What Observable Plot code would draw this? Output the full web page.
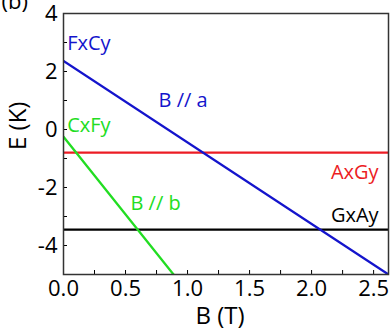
<!DOCTYPE html>
<html>
<head>
<meta charset="utf-8">
<script src="https://cdn.jsdelivr.net/npm/d3@7"></script>
<script src="https://cdn.jsdelivr.net/npm/@observablehq/plot@0.6"></script>
<style>
  html, body { margin: 0; padding: 0; background: #fff; }
  svg { display: block; font-family: "Open Sans", sans-serif; }
</style>
</head>
<body>
<div id="chart"></div>
<script>
// Field B (T) and energy E (K) for each line
const aFieldB = [0, 2.62];          // B // a  (FxCy)
const aEnergyE = [2.36, -5];
const bFieldB = [0, 0.887];         // B // b  (CxFy)
const bEnergyE = [-0.25, -5];
const axGyE = [-0.8];               // AxGy, field independent
const gxAyE = [-3.45];              // GxAy, field independent

// Annotation labels (anchored in data coordinates)
const labelText  = ["FxCy", "B // a", "CxFy", "B // b", "AxGy", "GxAy"];
const labelB     = [0.03, 0.766, 0.03, 0.54, 2.54, 2.54];
const labelE     = [2.97, 1.0, 0.14, -2.55, -1.48, -2.97];
const labelColor = ["#1414cc", "#1414cc", "#22dd22", "#22dd22", "#ec1c24", "#000000"];
const labelAnchor = ["start", "start", "start", "start", "end", "end"];

// Axis ticks
const xTickLabels = [0, 0.5, 1.0, 1.5, 2.0, 2.5];
const xMinorTicks = [0, 0.25, 0.5, 0.75, 1.0, 1.25, 1.5, 1.75, 2.0, 2.25, 2.5];
const yTickLabels = [-4, -2, 0, 2, 4];
const yMinorTicks = [-5, -4, -3, -2, -1, 0, 1, 2, 3, 4];
const xTitle = "B (T)";
const yTitle = "E (K)";
const panelTag = "(b)";

const aLine = aFieldB.map((b, i) => ({B: b, E: aEnergyE[i]}));
const bLine = bFieldB.map((b, i) => ({B: b, E: bEnergyE[i]}));
const labels = labelText.map((t, i) => ({t, B: labelB[i], E: labelE[i], c: labelColor[i], a: labelAnchor[i]}));

const plot = Plot.plot({
  width: 390,
  height: 331,
  marginTop: 13,
  marginRight: 2,
  marginBottom: 57,
  marginLeft: 63,
  style: {fontFamily: "'Open Sans', sans-serif", background: "#fff"},
  x: {domain: [0, 2.62]},
  y: {domain: [-5, 4]},
  marks: [
    Plot.ruleY(axGyE, {stroke: "#ec1c24", strokeWidth: 2.2}),
    Plot.ruleY(gxAyE, {stroke: "#000", strokeWidth: 2.2}),
    Plot.line(aLine, {x: "B", y: "E", stroke: "#1414cc", strokeWidth: 2.3, clip: true}),
    Plot.line(bLine, {x: "B", y: "E", stroke: "#22dd22", strokeWidth: 2.3, clip: true}),
    ...labels.map(d => Plot.text([d], {x: "B", y: "E", text: "t", fill: d.c, textAnchor: d.a, fontSize: 20})),
    // minor/major inward ticks
    Plot.axisX(xMinorTicks, {anchor: "bottom", tickSize: -4, tickFormat: () => "", label: null, stroke: "#000"}),
    Plot.axisY(yMinorTicks, {anchor: "left", tickSize: -4, tickFormat: () => "", label: null, stroke: "#000"}),
    // tick labels
    Plot.axisX(xTickLabels, {anchor: "bottom", tickSize: 0, tickPadding: 6, tickFormat: d3.format(".1f"), fontSize: 22, fill: "#000", label: null}),
    Plot.axisY(yTickLabels, {anchor: "left", tickSize: 0, tickPadding: 6, tickFormat: d => String(d), fontSize: 22, fill: "#000", label: null}),
    Plot.frame({stroke: "#333", strokeWidth: 1.5}),
    // axis titles
    Plot.text([xTitle], {frameAnchor: "bottom", dx: -6, dy: 42, lineAnchor: "middle", fontSize: 24, fill: "#000"}),
    Plot.text([yTitle], {frameAnchor: "left", dx: -45, dy: 6, rotate: -90, lineAnchor: "middle", fontSize: 24, fill: "#000"}),
    Plot.text([panelTag], {frameAnchor: "top-left", dx: -62, dy: -5, textAnchor: "start", lineAnchor: "bottom", fontSize: 22, fill: "#000"})
  ]
});
document.getElementById("chart").appendChild(plot);
</script>
</body>
</html>
